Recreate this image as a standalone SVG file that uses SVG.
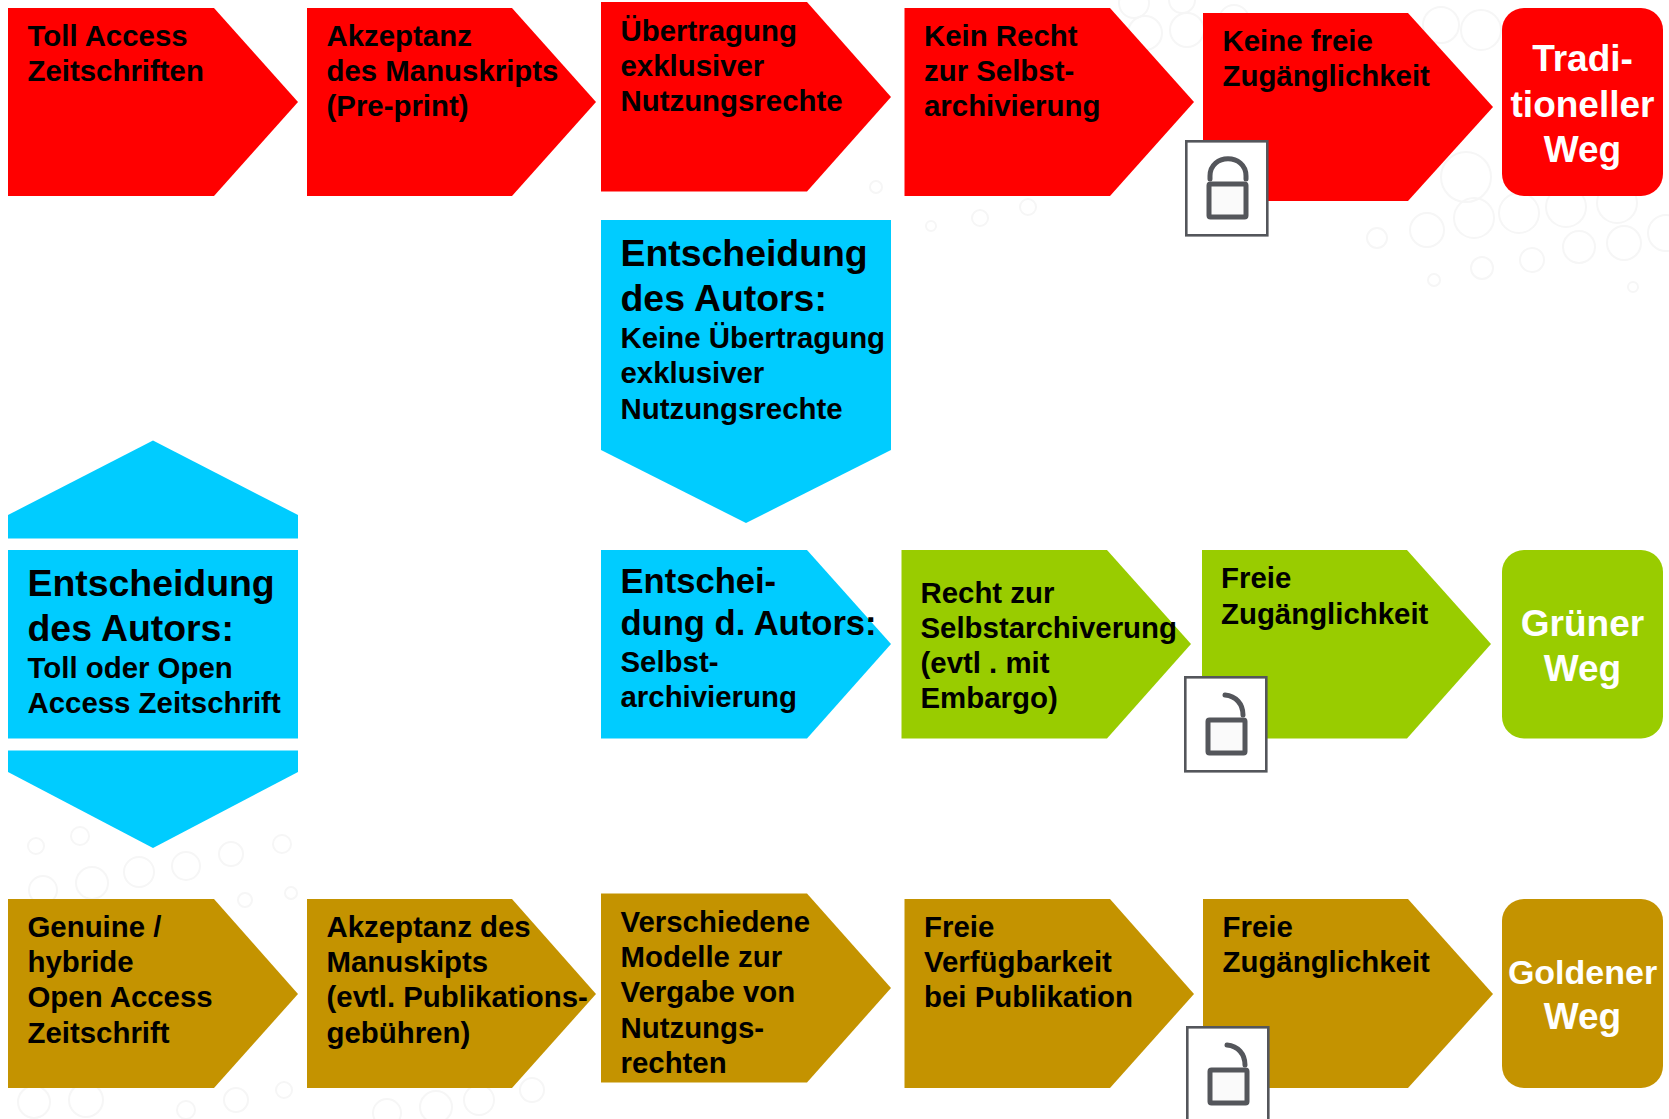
<svg xmlns="http://www.w3.org/2000/svg" width="1669" height="1119" viewBox="0 0 1669 1119">
<style>
text{font-family:"Liberation Sans",Arial,sans-serif;font-weight:700;fill:#000}
.s{font-size:29.4px}
.h{font-size:37.4px}
.m{font-size:34.6px}
.w{font-size:37px;fill:#fff;text-anchor:middle}
.g{font-size:34px}
.red{fill:#f00}.blue{fill:#0cf}.green{fill:#9c0}.gold{fill:#c49300}
.b circle{fill:none;stroke:#f6f6f6;stroke-width:2}
</style>
<defs>
<g id="lockbox"><rect x="1.3" y="1.3" width="81" height="94" fill="#fff" stroke="#54565b" stroke-width="2.6"/></g>
<g id="lockbody"><rect x="24" y="44" width="37" height="33" rx="1.5" fill="#fafafa" stroke="#54565b" stroke-width="5"/></g>
</defs>
<rect width="1669" height="1119" fill="#fff"/>
<g id="bubbles" class="b">
<circle cx="1466" cy="177" r="25"/><circle cx="1474" cy="218" r="20"/><circle cx="1427" cy="230" r="17"/><circle cx="1519" cy="213" r="20"/><circle cx="1566" cy="207" r="20"/><circle cx="1617" cy="203" r="20"/><circle cx="1579" cy="247" r="16"/><circle cx="1624" cy="243" r="17"/><circle cx="1532" cy="260" r="12"/><circle cx="1482" cy="268" r="11"/><circle cx="1377" cy="238" r="10"/><circle cx="1434" cy="280" r="6"/><circle cx="1633" cy="287" r="5"/><circle cx="1666" cy="233" r="18"/><circle cx="1441" cy="25" r="18"/><circle cx="1481" cy="30" r="20"/><circle cx="1187" cy="30" r="17"/><circle cx="1145" cy="33" r="17"/><circle cx="1234" cy="20" r="15"/><circle cx="1134" cy="3" r="15"/><circle cx="1182" cy="0" r="13"/><circle cx="931" cy="226" r="5"/><circle cx="980" cy="218" r="8"/><circle cx="1028" cy="207" r="8"/><circle cx="876" cy="187" r="6"/>
<circle cx="36" cy="846" r="8"/><circle cx="80" cy="836" r="9"/><circle cx="43" cy="890" r="14"/><circle cx="92" cy="883" r="16"/><circle cx="139" cy="872" r="15"/><circle cx="186" cy="866" r="14"/><circle cx="231" cy="854" r="12"/><circle cx="282" cy="844" r="9"/><circle cx="291" cy="893" r="6"/><circle cx="245" cy="900" r="7"/><circle cx="34" cy="1102" r="16"/><circle cx="86" cy="1100" r="17"/><circle cx="186" cy="1110" r="9"/><circle cx="236" cy="1100" r="12"/><circle cx="284" cy="1090" r="8"/><circle cx="387" cy="1113" r="14"/><circle cx="436" cy="1107" r="16"/><circle cx="479" cy="1100" r="15"/><circle cx="532" cy="1090" r="12"/>
</g>

<g id="r1"><polygon class="red" points="8,8 214,8 298,102 214,196 8,196"/><text class="s"><tspan x="27.5" y="46">Toll Access</tspan><tspan x="27.5" y="81">Zeitschriften</tspan></text></g>
<g id="r2"><polygon class="red" points="307,8 512,8 596,102 512,196 307,196"/><text class="s"><tspan x="326.5" y="46">Akzeptanz</tspan><tspan x="326.5" y="81">des Manuskripts</tspan><tspan x="326.5" y="116">(Pre-print)</tspan></text></g>
<g id="r3"><polygon class="red" points="601,2 807,2 891,97 807,191.5 601,191.5"/><text class="s"><tspan x="620.5" y="41">Übertragung</tspan><tspan x="620.5" y="76">exklusiver</tspan><tspan x="620.5" y="111">Nutzungsrechte</tspan></text></g>
<g id="r4"><polygon class="red" points="904.5,8 1110,8 1194,102 1110,196 904.5,196"/><text class="s"><tspan x="924" y="46">Kein Recht</tspan><tspan x="924" y="81">zur Selbst-</tspan><tspan x="924" y="116">archivierung</tspan></text></g>
<g id="r5"><polygon class="red" points="1203,13 1408,13 1493,107 1408,201 1203,201"/><text class="s"><tspan x="1222.5" y="51">Keine freie</tspan><tspan x="1222.5" y="86">Zugänglichkeit</tspan></text></g>
<g id="r-end"><rect class="red" x="1502" y="8" width="161" height="188" rx="22"/><text class="w"><tspan x="1582.5" y="71">Tradi-</tspan><tspan x="1582.5" y="116.5">tioneller</tspan><tspan x="1582.5" y="162">Weg</tspan></text></g>
<g id="lock1" transform="translate(1185,140)"><use href="#lockbox"/><use href="#lockbody"/><path d="M25,39 V36 C25,13 61,13 61,36 V39" fill="none" stroke="#54565b" stroke-width="5" stroke-linecap="round"/></g>

<g id="b-top"><polygon class="blue" points="601,220 891,220 891,450 746,523 601,450"/><text><tspan class="h" x="620.5" y="266">Entscheidung</tspan><tspan class="h" x="620.5" y="310.5">des Autors:</tspan><tspan class="s" x="620.5" y="348">Keine Übertragung</tspan><tspan class="s" x="620.5" y="383">exklusiver</tspan><tspan class="s" x="620.5" y="418.5">Nutzungsrechte</tspan></text></g>
<g id="b-left-up"><polygon class="blue" points="8,538.5 8,515 153,440.5 298,515 298,538.5"/></g>
<g id="b-left"><rect class="blue" x="8" y="550" width="290" height="188.5"/><text><tspan class="h" x="27.5" y="595.5">Entscheidung</tspan><tspan class="h" x="27.5" y="640.5">des Autors:</tspan><tspan class="s" x="27.5" y="678">Toll oder Open</tspan><tspan class="s" x="27.5" y="713">Access Zeitschrift</tspan></text></g>
<g id="b-left-down"><polygon class="blue" points="8,750.5 298,750.5 298,772 153,848 8,772"/></g>
<g id="b-mid"><polygon class="blue" points="601,550 807,550 891,644 807,738.5 601,738.5"/><text><tspan class="m" x="620.5" y="593">Entschei-</tspan><tspan class="m" x="620.5" y="634.5">dung d. Autors:</tspan><tspan class="s" x="620.5" y="672">Selbst-</tspan><tspan class="s" x="620.5" y="707">archivierung</tspan></text></g>

<g id="g1"><polygon class="green" points="901.5,550 1107,550 1191,644 1107,738.5 901.5,738.5"/><text class="s"><tspan x="920.5" y="603">Recht zur</tspan><tspan x="920.5" y="638">Selbstarchiverung</tspan><tspan x="920.5" y="672.5">(evtl . mit</tspan><tspan x="920.5" y="707.5">Embargo)</tspan></text></g>
<g id="g2"><polygon class="green" points="1202,550 1407,550 1491,644 1407,738.5 1202,738.5"/><text class="s"><tspan x="1221" y="587.5">Freie</tspan><tspan x="1221" y="623.5">Zugänglichkeit</tspan></text></g>
<g id="g-end"><rect class="green" x="1502" y="550" width="161" height="188.5" rx="22"/><text class="w"><tspan x="1582.5" y="635.5">Grüner</tspan><tspan x="1582.5" y="680.5">Weg</tspan></text></g>
<g id="lock2" transform="translate(1184,676)"><use href="#lockbox"/><use href="#lockbody"/><path d="M41,19 C52,20 59,28 59,39" fill="none" stroke="#54565b" stroke-width="5" stroke-linecap="round"/></g>

<g id="o1"><polygon class="gold" points="8,899 214,899 298,994 214,1088 8,1088"/><text class="s"><tspan x="27.5" y="937">Genuine /</tspan><tspan x="27.5" y="972">hybride</tspan><tspan x="27.5" y="1007">Open Access</tspan><tspan x="27.5" y="1043">Zeitschrift</tspan></text></g>
<g id="o2"><polygon class="gold" points="307,899 512,899 596,994 512,1088 307,1088"/><text class="s"><tspan x="326.5" y="937">Akzeptanz des</tspan><tspan x="326.5" y="972">Manuskipts</tspan><tspan x="326.5" y="1007">(evtl. Publikations-</tspan><tspan x="326.5" y="1043">gebühren)</tspan></text></g>
<g id="o3"><polygon class="gold" points="601,893.5 807,893.5 891,988 807,1082.5 601,1082.5"/><text class="s"><tspan x="620.5" y="932">Verschiedene</tspan><tspan x="620.5" y="967">Modelle zur</tspan><tspan x="620.5" y="1002">Vergabe von</tspan><tspan x="620.5" y="1038">Nutzungs-</tspan><tspan x="620.5" y="1073">rechten</tspan></text></g>
<g id="o4"><polygon class="gold" points="904.5,899 1110,899 1194,994 1110,1088 904.5,1088"/><text class="s"><tspan x="924" y="937">Freie</tspan><tspan x="924" y="972">Verfügbarkeit</tspan><tspan x="924" y="1007">bei Publikation</tspan></text></g>
<g id="o5"><polygon class="gold" points="1203,899 1408,899 1493,994 1408,1088 1203,1088"/><text class="s"><tspan x="1222.5" y="937">Freie</tspan><tspan x="1222.5" y="972">Zugänglichkeit</tspan></text></g>
<g id="o-end"><rect class="gold" x="1502" y="899" width="161" height="189" rx="22"/><text class="w"><tspan class="g" x="1582.5" y="983.5">Goldener</tspan><tspan x="1582.5" y="1028.5">Weg</tspan></text></g>
<g id="lock3" transform="translate(1186,1026)"><use href="#lockbox"/><use href="#lockbody"/><path d="M41,19 C52,20 59,28 59,39" fill="none" stroke="#54565b" stroke-width="5" stroke-linecap="round"/></g>
</svg>
